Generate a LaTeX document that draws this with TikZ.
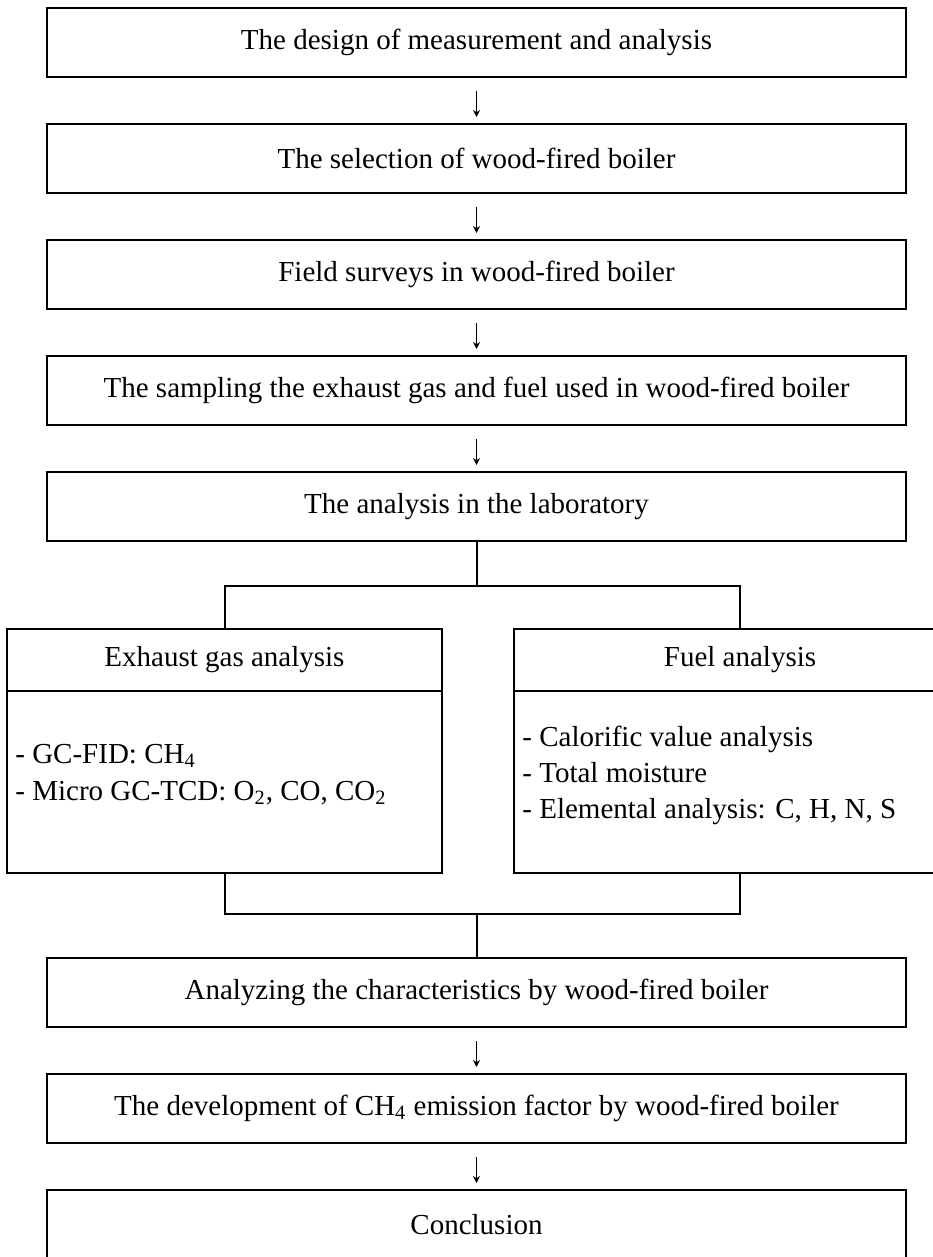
\documentclass[tikz,border=0pt]{standalone}
\usepackage{fontspec}
\setmainfont{Liberation Serif}
\usetikzlibrary{arrows.meta}
\tikzset{
  box/.style={draw, line width=1pt, inner sep=0pt, outer sep=0pt, minimum width=429.5pt, minimum height=34.5pt},
  half/.style={draw, line width=1pt, inner sep=0pt, outer sep=0pt, minimum height=31pt},
  body/.style={draw, line width=1pt, inner sep=0pt, outer sep=0pt, minimum height=91pt},
  item/.style={anchor=base west, inner sep=0pt},
  arr/.style={-{Stealth[length=3.5pt,width=3.5pt]}, line width=0.5pt, shorten <=7pt, shorten >=3.5pt},
  link/.style={line width=1pt},
}
\begin{document}
\begin{tikzpicture}[x=0.5pt,y=-0.5pt,font=\fontsize{14.5}{17}\selectfont]
\useasboundingbox (0,0) rectangle (932,1257);
% main steps
\foreach \txt/\nm [count=\i from 0] in {The design of measurement and analysis/design,
    The selection of wood-fired boiler/select,
    Field surveys in wood-fired boiler/survey,
    The sampling the exhaust gas and fuel used in wood-fired boiler/sample,
    The analysis in the laboratory/lab}
  \node[box] (\nm) at (476.5,42.5+116*\i) {\txt};
\foreach \a/\b in {design/select,select/survey,survey/sample,sample/lab}
  \draw[arr] (\a) -- (\b);

% two analyses
\node[half, minimum width=217.5pt] (gas) at (224.5,660) {Exhaust gas analysis};
\node[body, minimum width=217.5pt] (gasbody) at (224.5,782) {};
\node[half, minimum width=226pt] (fuel) at (740,660) {Fuel analysis};
\node[body, minimum width=226pt] (fuelbody) at (740,782) {};
\node[item] (gas1) at (15,763) {- GC-FID: CH\textsubscript{4}};
\node[item] (gas2) at (15,800) {- Micro GC-TCD: O\textsubscript{2}, CO, CO\textsubscript{2}};
\node[item] (fuel1) at (522,746) {- Calorific value analysis};
\node[item] (fuel2) at (522,782) {- Total moisture};
\node[item] (fuel3) at (522,818) {- Elemental analysis: C, H, N, S};

\coordinate (split) at (476.5,586);
\coordinate (merge) at (476.5,914);
\draw[link] (lab) -- (split);
\draw[link] (gas.north) |- (split) -| (fuel.north);

% last steps
\node[box] (char) at (476.5,992.5) {Analyzing the characteristics by wood-fired boiler};
\node[box] (factor) at (476.5,1108.5) {The development of CH\textsubscript{4} emission factor by wood-fired boiler};
\node[box] (concl) at (476.5,1224.5) {Conclusion};
\draw[link] (gasbody.south) |- (merge) -| (fuelbody.south);
\draw[link] (merge) -- (char);
\draw[arr] (char) -- (factor);
\draw[arr] (factor) -- (concl);
\end{tikzpicture}
\end{document}
